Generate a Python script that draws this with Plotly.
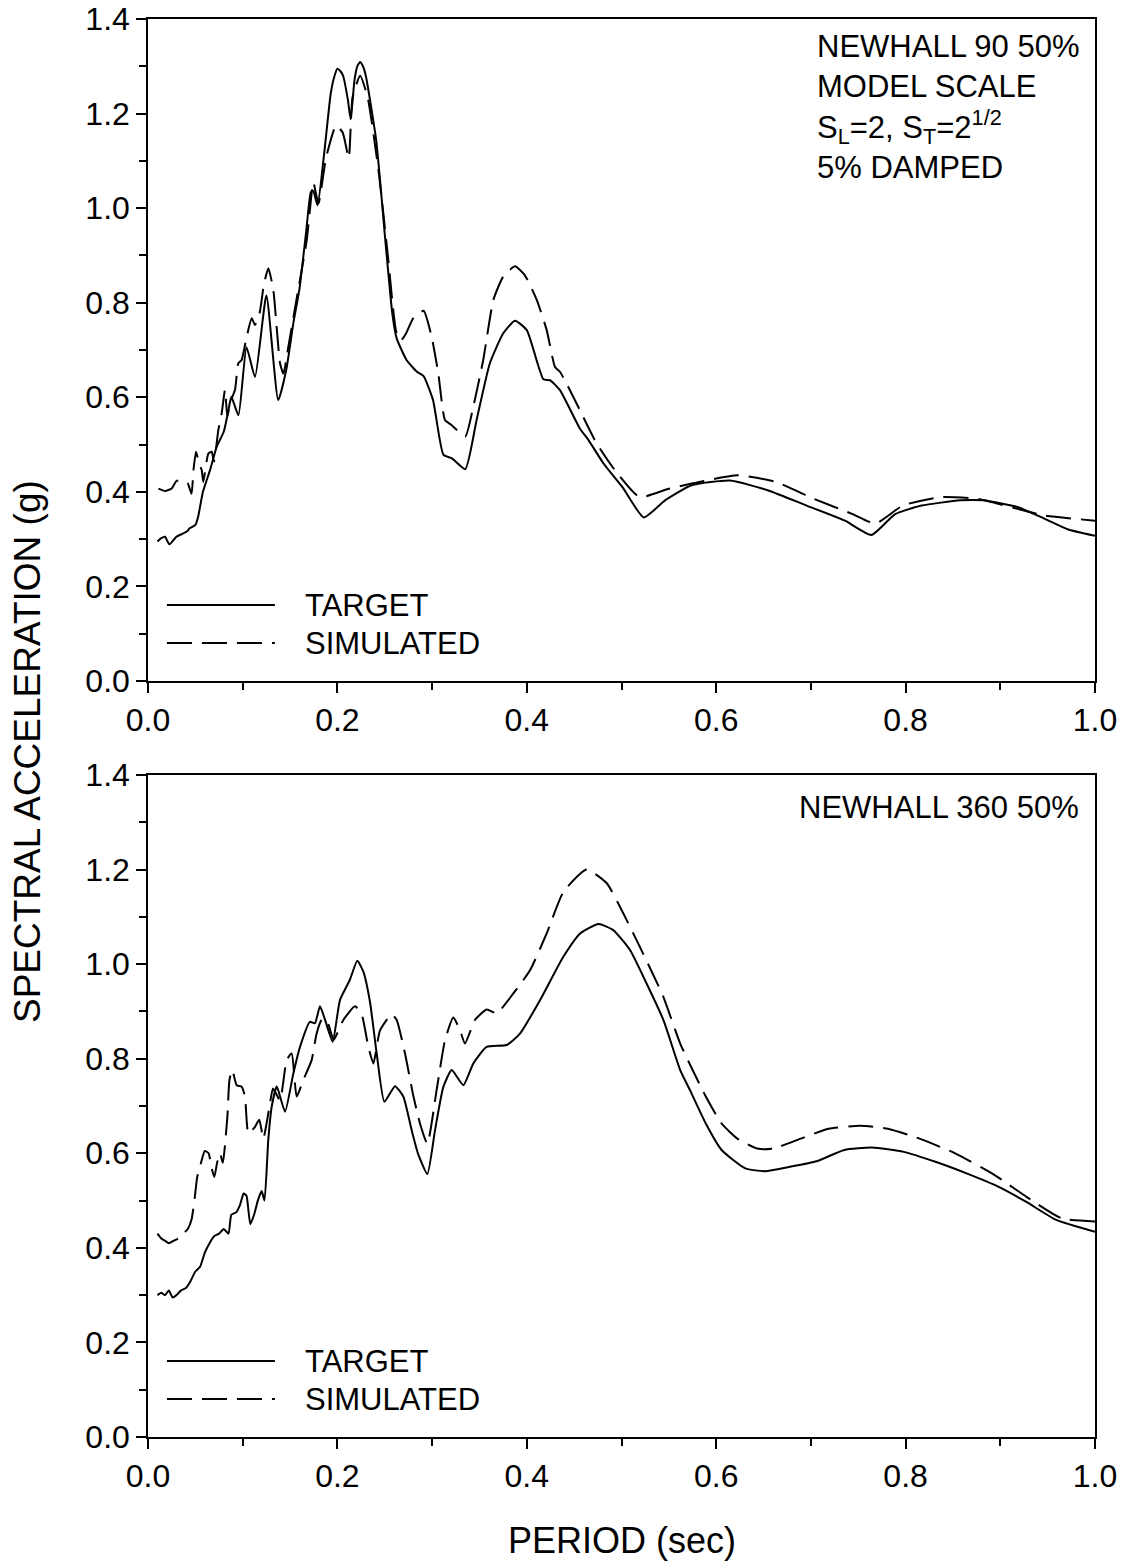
import plotly.graph_objects as go

# ---------------- data: upper panel (NEWHALL 90 50%) ----------------
top_target_period = [0.010, 0.014, 0.018, 0.0225, 0.030, 0.041, 0.044, 0.050, 0.053, 0.058,
                     0.0655, 0.0725, 0.080, 0.085, 0.088, 0.0955, 0.104, 0.113, 0.125, 0.1375,
                     0.146, 0.1535, 0.160, 0.167, 0.172, 0.1745, 0.179, 0.186, 0.193, 0.197,
                     0.200, 0.203, 0.206, 0.211, 0.214, 0.218, 0.221, 0.224, 0.227, 0.230,
                     0.241, 0.251, 0.258, 0.2626, 0.273, 0.284, 0.291, 0.301, 0.312, 0.321,
                     0.335, 0.347, 0.361, 0.375, 0.3875, 0.400, 0.4175, 0.4245, 0.435, 0.456,
                     0.465, 0.481, 0.501, 0.5235, 0.546, 0.574, 0.6146, 0.655, 0.6955, 0.736,
                     0.764, 0.789, 0.817, 0.8575, 0.882, 0.918, 0.947, 0.971, 1.0]
top_target_sa = [0.295, 0.302, 0.305, 0.289, 0.305, 0.316, 0.323, 0.330, 0.348, 0.400,
                 0.446, 0.495, 0.527, 0.573, 0.601, 0.562, 0.706, 0.643, 0.815, 0.594,
                 0.658, 0.757, 0.830, 0.950, 1.034, 1.037, 1.006, 1.115, 1.243, 1.280,
                 1.295, 1.290, 1.280, 1.230, 1.188, 1.270, 1.300, 1.309, 1.300, 1.280,
                 1.143, 0.923, 0.777, 0.7245, 0.679, 0.654, 0.645, 0.594, 0.478, 0.471,
                 0.448, 0.552, 0.672, 0.735, 0.762, 0.742, 0.638, 0.636, 0.615, 0.534,
                 0.510, 0.460, 0.410, 0.346, 0.382, 0.414, 0.424, 0.403, 0.371, 0.339,
                 0.309, 0.353, 0.371, 0.382, 0.382, 0.368, 0.343, 0.321, 0.307]

top_sim_period = [0.011, 0.018, 0.025, 0.030, 0.036, 0.042, 0.046, 0.048, 0.0507, 0.054,
                  0.0567, 0.0584, 0.0637, 0.0672, 0.0697, 0.0743, 0.0778, 0.0813, 0.0838, 0.0866,
                  0.0919, 0.0954, 0.0989, 0.1042, 0.1095, 0.113, 0.118, 0.1225, 0.1271, 0.1324,
                  0.1394, 0.143, 0.1482, 0.157, 0.1676, 0.1729, 0.1746, 0.180, 0.188, 0.1986,
                  0.2056, 0.212, 0.216, 0.224, 0.232, 0.244, 0.253, 0.262, 0.267, 0.2725,
                  0.280, 0.291, 0.2995, 0.3066, 0.3136, 0.3207, 0.335, 0.3435, 0.354, 0.3647,
                  0.375, 0.3875, 0.398, 0.4105, 0.421, 0.4298, 0.435, 0.442, 0.456, 0.473,
                  0.493, 0.519, 0.550, 0.582, 0.6227, 0.663, 0.7036, 0.744, 0.768, 0.797,
                  0.837, 0.877, 0.918, 0.947, 1.0]
top_sim_sa = [0.407, 0.402, 0.407, 0.423, 0.425, 0.418, 0.396, 0.446, 0.485, 0.460,
              0.446, 0.421, 0.481, 0.485, 0.464, 0.531, 0.566, 0.616, 0.559, 0.588,
              0.616, 0.672, 0.679, 0.728, 0.767, 0.753, 0.780, 0.840, 0.873, 0.826,
              0.672, 0.650, 0.707, 0.809, 0.932, 1.034, 1.055, 1.010, 1.106, 1.175,
              1.160, 1.106, 1.234, 1.280, 1.234, 1.070, 0.905, 0.740, 0.720, 0.735,
              0.767, 0.783, 0.728, 0.650, 0.552, 0.541, 0.517, 0.580, 0.679, 0.806,
              0.855, 0.877, 0.858, 0.806, 0.742, 0.664, 0.654, 0.629, 0.573, 0.505,
              0.446, 0.389, 0.4066, 0.421, 0.435, 0.421, 0.385, 0.353, 0.333, 0.371,
              0.389, 0.385, 0.364, 0.350, 0.339]

# ---------------- data: lower panel (NEWHALL 360 50%) ----------------
bot_target_period = [0.010, 0.014, 0.018, 0.022, 0.026, 0.030, 0.035, 0.040, 0.045, 0.050,
                     0.055, 0.060, 0.065, 0.070, 0.075, 0.080, 0.085, 0.088, 0.093, 0.097,
                     0.101, 0.104, 0.108, 0.112, 0.116, 0.120, 0.123, 0.127, 0.1306, 0.136,
                     0.1447, 0.1535, 0.1605, 0.171, 0.1763, 0.1816, 0.187, 0.195, 0.2027, 0.213,
                     0.221, 0.2274, 0.2344, 0.2415, 0.2496, 0.2608, 0.2696, 0.2784, 0.285, 0.295,
                     0.3031, 0.3118, 0.3207, 0.333, 0.3435, 0.3576, 0.3787, 0.3928, 0.414, 0.4387,
                     0.4563, 0.4757, 0.4913, 0.509, 0.5265, 0.5442, 0.562, 0.5722, 0.589, 0.6057,
                     0.6308, 0.6517, 0.6768, 0.706, 0.7353, 0.7645, 0.798, 0.8315, 0.865, 0.8983,
                     0.9276, 0.959, 1.0]
bot_target_sa = [0.300, 0.305, 0.300, 0.310, 0.295, 0.300, 0.310, 0.315, 0.330, 0.350,
                 0.360, 0.390, 0.410, 0.425, 0.430, 0.440, 0.430, 0.470, 0.475, 0.490,
                 0.515, 0.510, 0.450, 0.470, 0.500, 0.520, 0.500, 0.628, 0.698, 0.741,
                 0.688, 0.769, 0.825, 0.878, 0.875, 0.911, 0.882, 0.836, 0.924, 0.966,
                 1.007, 0.984, 0.920, 0.811, 0.709, 0.742, 0.720, 0.649, 0.600, 0.556,
                 0.649, 0.740, 0.776, 0.744, 0.790, 0.825, 0.829, 0.853, 0.924, 1.016,
                 1.065, 1.085, 1.072, 1.030, 0.959, 0.882, 0.776, 0.734, 0.663, 0.607,
                 0.568, 0.562, 0.571, 0.583, 0.607, 0.612, 0.603, 0.582, 0.557, 0.529,
                 0.497, 0.459, 0.434]

bot_sim_period = [0.010, 0.014, 0.018, 0.022, 0.027, 0.032, 0.037, 0.042, 0.046, 0.049,
                  0.052, 0.056, 0.060, 0.064, 0.067, 0.070, 0.073, 0.076, 0.079, 0.0838,
                  0.086, 0.089, 0.0936, 0.0989, 0.1024, 0.106, 0.113, 0.1175, 0.1218, 0.1288,
                  0.132, 0.1394, 0.1464, 0.1517, 0.157, 0.164, 0.1728, 0.178, 0.1834, 0.1887,
                  0.196, 0.2063, 0.2186, 0.2256, 0.2327, 0.238, 0.245, 0.2573, 0.2626, 0.2714,
                  0.280, 0.2872, 0.295, 0.3048, 0.3136, 0.3224, 0.3295, 0.3347, 0.3453, 0.3576,
                  0.3682, 0.3858, 0.4034, 0.421, 0.4387, 0.4633, 0.4845, 0.502, 0.5195, 0.5442,
                  0.562, 0.589, 0.6057, 0.6224, 0.6433, 0.660, 0.6893, 0.7186, 0.752, 0.7813,
                  0.8147, 0.8523, 0.894, 0.9276, 0.9652, 1.0]
bot_sim_sa = [0.430, 0.420, 0.415, 0.410, 0.415, 0.420, 0.430, 0.440, 0.460, 0.500,
              0.550, 0.580, 0.605, 0.600, 0.570, 0.550, 0.580, 0.600, 0.580, 0.677,
              0.755, 0.776, 0.744, 0.741, 0.720, 0.642, 0.656, 0.671, 0.631, 0.705,
              0.737, 0.712, 0.797, 0.811, 0.720, 0.755, 0.797, 0.853, 0.882, 0.882,
              0.840, 0.882, 0.911, 0.894, 0.825, 0.790, 0.860, 0.894, 0.882, 0.811,
              0.723, 0.663, 0.620, 0.734, 0.839, 0.887, 0.860, 0.832, 0.882, 0.904,
              0.896, 0.938, 0.987, 1.065, 1.153, 1.200, 1.171, 1.107, 1.036, 0.931,
              0.832, 0.720, 0.663, 0.631, 0.610, 0.610, 0.631, 0.652, 0.658, 0.652,
              0.631, 0.600, 0.554, 0.508, 0.462, 0.456]

x_ticks = [0.0, 0.2, 0.4, 0.6, 0.8, 1.0]
y_ticks = [0.0, 0.2, 0.4, 0.6, 0.8, 1.0, 1.2, 1.4]
legend_names = ["TARGET", "SIMULATED"]
top_note = "NEWHALL 90 50%<br>MODEL SCALE<br>S<sub>L</sub>=2, S<sub>T</sub>=2<sup>1/2</sup><br>5% DAMPED"
bot_note = "NEWHALL 360 50%"

FONT = "Liberation Sans, Arial, sans-serif"
DASH = "25px,10px"

fig = go.Figure()
line_solid = dict(color="black", width=2, shape="spline", smoothing=0.5)
line_dash = dict(color="black", width=2, dash=DASH, shape="spline", smoothing=0.5)
fig.add_trace(go.Scatter(x=top_target_period, y=top_target_sa, mode="lines",
                         line=line_solid, xaxis="x", yaxis="y", showlegend=False))
fig.add_trace(go.Scatter(x=top_sim_period, y=top_sim_sa, mode="lines",
                         line=line_dash, xaxis="x", yaxis="y", showlegend=False))
fig.add_trace(go.Scatter(x=bot_target_period, y=bot_target_sa, mode="lines",
                         line=line_solid, xaxis="x2", yaxis="y2", showlegend=False))
fig.add_trace(go.Scatter(x=bot_sim_period, y=bot_sim_sa, mode="lines",
                         line=line_dash, xaxis="x2", yaxis="y2", showlegend=False))

W, H = 1127, 1564
L, R, T, B = 148, 32, 19, 127
ph = H - T - B
top_dom = [(1437 - 681) / ph, 1.0]
bot_dom = [0.0, (1437 - 775) / ph]

def xaxis(anchor):
    return dict(range=[0, 1], tickvals=x_ticks, tickformat=".1f", ticks="outside", ticklen=10,
                tickwidth=1.5, tickcolor="black", showline=True, linecolor="black", linewidth=1.5,
                mirror=True, showgrid=False, zeroline=False, anchor=anchor, automargin=False,
                minor=dict(dtick=0.1, ticks="outside", ticklen=7, tickwidth=1.5, tickcolor="black"),
                tickfont=dict(family=FONT, size=32, color="black"))

def yaxis(anchor, dom):
    return dict(range=[0, 1.4], tickvals=y_ticks, tickformat=".1f", ticks="outside", ticklen=10,
                tickwidth=1.5, tickcolor="black", showline=True, linecolor="black", linewidth=1.5,
                mirror=True, showgrid=False, zeroline=False, anchor=anchor, domain=dom,
                automargin=False,
                minor=dict(dtick=0.1, ticks="outside", ticklen=7, tickwidth=1.5, tickcolor="black"),
                tickfont=dict(family=FONT, size=32, color="black"))

shapes = []
annotations = []
for xa, ya in (("x", "y"), ("x2", "y2")):
    xd, yd = xa + " domain", ya + " domain"
    for i, name in enumerate(legend_names):
        yy = 0.1148 - i * 0.0574
        shapes.append(dict(type="line", xref=xd, yref=yd, x0=0.020, x1=0.134, y0=yy, y1=yy,
                           line=dict(color="black", width=2, dash=None if i == 0 else DASH)))
        annotations.append(dict(text=name, xref=xd, yref=yd, x=0.1637, y=yy, xanchor="left",
                                yanchor="middle", showarrow=False,
                                font=dict(family=FONT, size=31, color="black")))

annotations.append(dict(text=top_note, xref="x domain", yref="y domain", x=0.985, y=0.988,
                        xanchor="right", yanchor="top", align="left", showarrow=False,
                        font=dict(family=FONT, size=31, color="black")))
annotations.append(dict(text=bot_note, xref="x2 domain", yref="y2 domain", x=0.985, y=0.980,
                        xanchor="right", yanchor="top", align="left", showarrow=False,
                        font=dict(family=FONT, size=31, color="black")))
annotations.append(dict(text="SPECTRAL ACCELERATION (g)", xref="paper", yref="paper",
                        x=(27 - L) / (W - L - R), y=(1437 - 752) / ph, xanchor="center",
                        yanchor="middle", textangle=-90, showarrow=False,
                        font=dict(family=FONT, size=37, color="black")))
annotations.append(dict(text="PERIOD (sec)", xref="paper", yref="paper",
                        x=0.5, y=(1437 - 1541) / ph, xanchor="center", yanchor="middle",
                        showarrow=False, font=dict(family=FONT, size=36, color="black")))

fig.update_layout(
    width=W, height=H, margin=dict(l=L, r=R, t=T, b=B, autoexpand=False),
    paper_bgcolor="white", plot_bgcolor="white",
    xaxis=xaxis("y"), yaxis=yaxis("x", top_dom),
    xaxis2=xaxis("y2"), yaxis2=yaxis("x2", bot_dom),
    shapes=shapes, annotations=annotations, showlegend=False,
)

fig.write_html("out.html")
